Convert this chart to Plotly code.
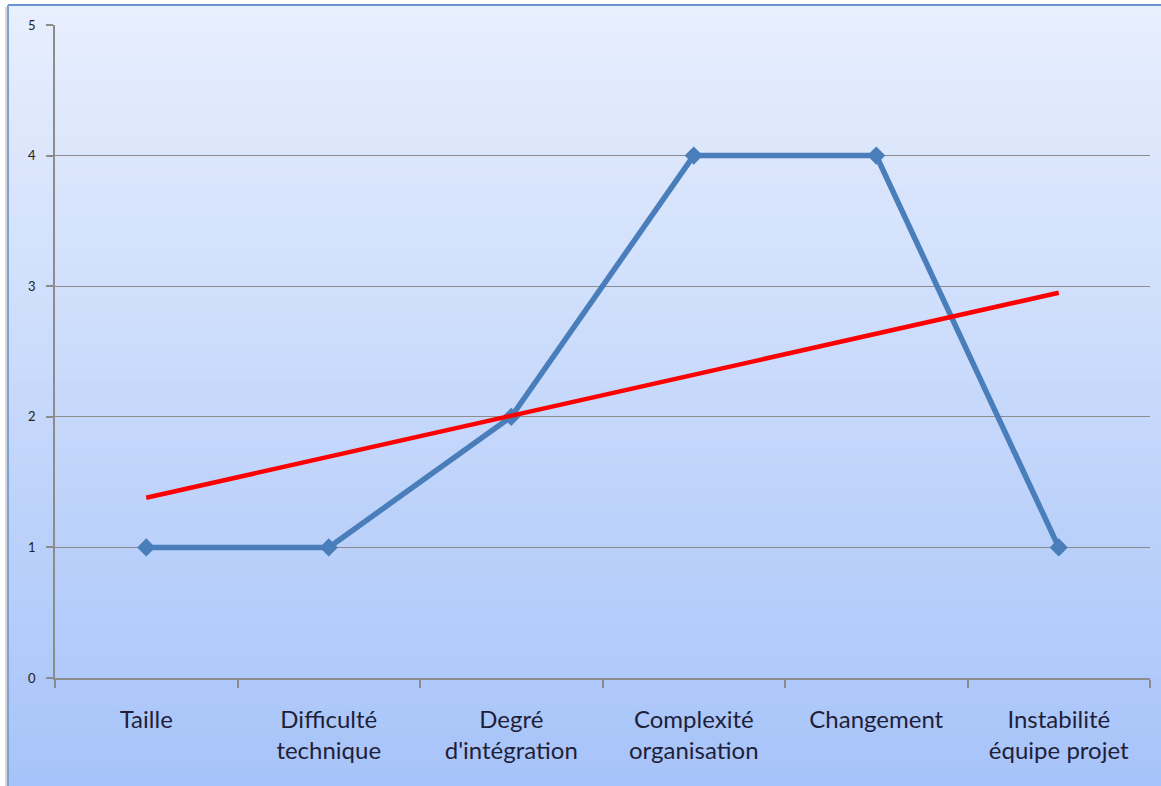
import plotly.graph_objects as go

categories = ["Taille", "Difficulté<br>technique", "Degré<br>d'intégration",
              "Complexité<br>organisation", "Changement", "Instabilité<br>équipe projet"]
values = [1, 1, 2, 4, 4, 1]
trend_values = [1.38, 2.95]  # trendline read at first and last category
y_ticks = [0, 1, 2, 3, 4, 5]

W, H = 1161, 786
ml, mr, mt, mb = 55, 11, 25, 108
pw, ph = W - ml - mr, H - mt - mb

def px2x(p):
    return (p - ml) / pw

def px2y(p):
    return (H - mb - p) / ph

fig = go.Figure()
fig.add_trace(go.Scatter(
    x=categories, y=values, mode="lines+markers",
    line=dict(color="#4a7ebb", width=5.5),
    marker=dict(symbol="diamond", size=14, color="#4a7ebb"),
    showlegend=False, hoverinfo="skip"))
fig.add_trace(go.Scatter(
    x=[categories[0], categories[-1]], y=trend_values, mode="lines",
    line=dict(color="#ff0000", width=4.5),
    showlegend=False, hoverinfo="skip"))

# gradient background
shapes = []
top_c = (232, 239, 253)
bot_c = (166, 195, 249)
y0p, y1p = 5, H
n = 90
for i in range(n):
    a = y0p + (y1p - y0p) * i / n
    b = y0p + (y1p - y0p) * (i + 1) / n
    t = (i + 0.5) / n
    c = tuple(round(top_c[k] + (bot_c[k] - top_c[k]) * t) for k in range(3))
    shapes.append(dict(type="rect", xref="paper", yref="paper", layer="below",
                       x0=px2x(8), x1=px2x(W + 2), y0=px2y(b + 0.6), y1=px2y(a),
                       fillcolor="rgb(%d,%d,%d)" % c, line=dict(width=0)))
# soft shadow + border
shapes.append(dict(type="line", xref="paper", yref="paper", layer="below",
                   x0=px2x(6), x1=px2x(6), y0=px2y(7), y1=px2y(H + 2),
                   line=dict(color="#d8d8d8", width=2)))
shapes.append(dict(type="line", xref="paper", yref="paper", layer="below",
                   x0=px2x(8), x1=px2x(W + 2), y0=px2y(5), y1=px2y(5),
                   line=dict(color="#6a93d4", width=2)))
shapes.append(dict(type="line", xref="paper", yref="paper", layer="below",
                   x0=px2x(8), x1=px2x(8), y0=px2y(5), y1=px2y(H + 2),
                   line=dict(color="#7f9fd0", width=2)))

fig.update_layout(
    width=W, height=H,
    margin=dict(l=ml, r=mr, t=mt, b=mb),
    paper_bgcolor="white", plot_bgcolor="rgba(0,0,0,0)",
    shapes=shapes,
    font=dict(family="Lato, Open Sans, sans-serif", color="#1f1f1f"),
)
fig.update_xaxes(
    type="category", tickson="boundaries", ticks="outside", ticklen=8,
    tickcolor="#8c8c8c", tickwidth=1.5,
    showline=True, linecolor="#8c8c8c", linewidth=1.5,
    showgrid=False, ticklabelstandoff=19,
    tickfont=dict(size=24, family="Lato, Open Sans, sans-serif", color="#1f1f3a"),
    range=[-0.5, 5.5], fixedrange=True)
fig.update_yaxes(
    range=[0, 5], tickvals=y_ticks, ticks="outside", ticklen=7,
    tickcolor="#8c8c8c", tickwidth=1.5,
    showline=True, linecolor="#8c8c8c", linewidth=1.5,
    showgrid=True, gridcolor="#8c8c8c", gridwidth=1,
    zeroline=False, ticklabelstandoff=8,
    tickfont=dict(size=13, color="#222222"), fixedrange=True)

fig.write_html("out.html", config={"displayModeBar": False},
               post_script="document.body.style.margin='0';document.body.style.overflow='hidden';")
